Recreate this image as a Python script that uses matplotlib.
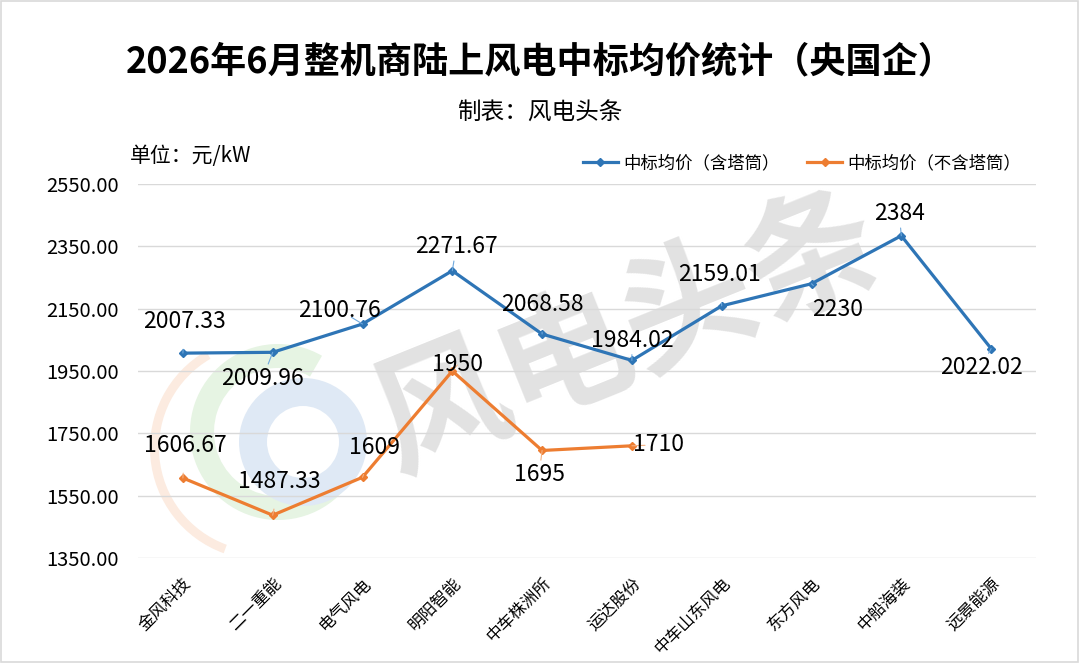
import matplotlib
matplotlib.use("Agg")
import matplotlib.pyplot as plt
from matplotlib.patches import Wedge, Rectangle

plt.rcParams['font.family'] = ['Noto Sans CJK SC', 'DejaVu Sans']

categories = ['金风科技', '二一重能', '电气风电', '明阳智能', '中车株洲所',
              '运达股份', '中车山东风电', '东方风电', '中船海装', '远景能源']
with_tower = [2007.33, 2009.96, 2100.76, 2271.67, 2068.58, 1984.02,
              2159.01, 2230, 2384, 2022.02]
without_tower = [1606.67, 1487.33, 1609, 1950, 1695, 1710]
with_labels = ['2007.33', '2009.96', '2100.76', '2271.67', '2068.58', '1984.02',
               '2159.01', '2230', '2384', '2022.02']
without_labels = ['1606.67', '1487.33', '1609', '1950', '1695', '1710']
yticks = [1350, 1550, 1750, 1950, 2150, 2350, 2550]

BLUE = '#2E75B6'
ORANGE = '#ED7D31'

fig = plt.figure(figsize=(10.8, 6.63), dpi=100)
fig.patch.set_facecolor('white')

# frame
fig.add_artist(Rectangle((0.001, 0.001), 0.997, 0.997, transform=fig.transFigure,
                         fill=False, edgecolor='#D9D9D9', lw=1.2))

# watermark (faint logo + text)
wm_ax = fig.add_axes([0, 0, 1, 1], zorder=0)
wm_ax.set_xlim(0, 1080); wm_ax.set_ylim(663, 0); wm_ax.axis('off')
wm_ax.add_patch(Wedge((262, 448), 112, 110, 240, width=9, color='#FCEBE0', lw=0))
wm_ax.add_patch(Wedge((278, 432), 88, 30, 300, width=24, color='#E6F4E3', lw=0))
wm_ax.add_patch(Wedge((303, 442), 64, 0, 360, width=28, color='#DFE9F5', lw=0))
wm_ax.text(628, 335, '风电头条', fontsize=96, fontweight='bold', color='#E2E2E2',
           rotation=22, ha='center', va='center')

ax = fig.add_axes([138 / 1080, 1 - 558 / 663, (1036 - 138) / 1080, (558 - 184) / 663], zorder=1)
ax.patch.set_alpha(0)
x_all = list(range(len(categories)))
x_wo = list(range(len(without_tower)))

ax.plot(x_all, with_tower, color=BLUE, lw=2.3, marker='D', ms=4, zorder=3,
        label='中标均价（含塔筒）')
ax.plot(x_wo, without_tower, color=ORANGE, lw=2.3, marker='D', ms=4, zorder=3,
        label='中标均价（不含塔筒）')

ax.set_xlim(-0.5, 9.5)
ax.set_ylim(1350, 2550)
ax.set_yticks(yticks)
ax.set_yticklabels([f'{v:.2f}' for v in yticks], fontsize=14.5)
ax.set_xticks(x_all)
ax.set_xticklabels(categories, rotation=45, ha='right', va='top',
                   rotation_mode='anchor', fontsize=12)
ax.tick_params(axis='both', length=0, colors='#000000')
ax.tick_params(axis='y', pad=14)
ax.tick_params(axis='x', pad=12)
for s in ax.spines.values():
    s.set_visible(False)
ax.grid(axis='y', color='#D9D9D9', lw=1)
ax.set_axisbelow(True)

# label offsets in pixels (dx, dy) with dy upward positive
off_blue = [(2, 32), (-10, -26), (-23, 14), (4, 24), (0, 30), (0, 20),
            (-2, 31), (26, -26), (-2, 22), (-10, -19)]
off_orange = [(2, 33), (7, 34), (12, 30), (5, 6), (-3, -24), (27, 1)]
px2pt = 0.72
for xi, v, lab, (dx, dy) in zip(x_all, with_tower, with_labels, off_blue):
    ax.annotate(lab, (xi, v), xytext=(dx * px2pt, dy * px2pt), textcoords='offset points',
                ha='center', va='center', fontsize=16.5, zorder=4,
                arrowprops=dict(arrowstyle='-', color='#6FA8DC', lw=0.8,
                                shrinkA=10, shrinkB=0))
for xi, v, lab, (dx, dy) in zip(x_wo, without_tower, without_labels, off_orange):
    ax.annotate(lab, (xi, v), xytext=(dx * px2pt, dy * px2pt), textcoords='offset points',
                ha='center', va='center', fontsize=16.5, zorder=4,
                arrowprops=dict(arrowstyle='-', color='#F4B183', lw=0.8,
                                shrinkA=10, shrinkB=0))

leg = ax.legend(loc='center', bbox_to_anchor=(802 / 1080, 1 - 163 / 663),
                bbox_transform=fig.transFigure, ncol=2, frameon=False,
                fontsize=12.5, handlelength=2.0, columnspacing=1.6, handletextpad=0.3)

fig.text(0.5, 1 - 62 / 663, '2026年6月整机商陆上风电中标均价统计（央国企）',
         ha='center', va='center', fontsize=26, fontweight='bold')
fig.text(0.5, 1 - 113 / 663, '制表：风电头条', ha='center', va='center', fontsize=17)
fig.text(130 / 1080, 1 - 156 / 663, '单位：元/kW', ha='left', va='center', fontsize=15)

fig.savefig('out.png', dpi=100)
